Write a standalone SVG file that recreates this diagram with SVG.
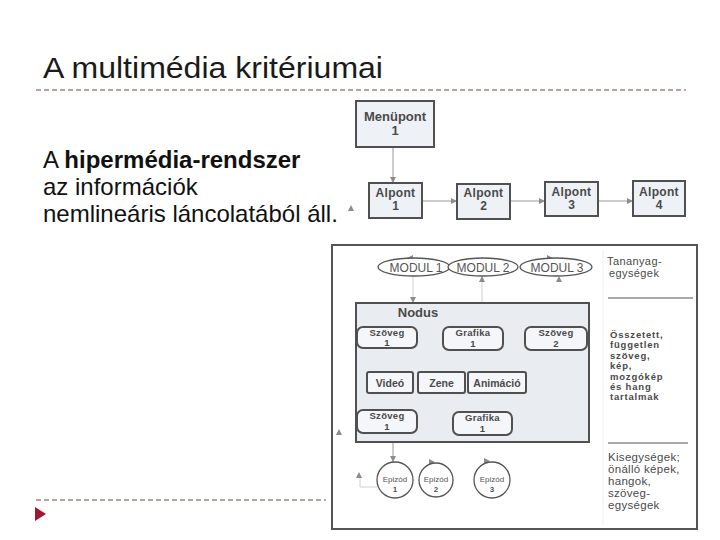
<svg xmlns="http://www.w3.org/2000/svg" width="720" height="540" viewBox="0 0 720 540">
<defs>
<style>
.title{font-family:"Liberation Sans",Arial,sans-serif;font-size:30px;fill:#1a1a1a}
.body{font-family:"Liberation Sans",Arial,sans-serif;font-size:24px;fill:#111}
.dash{stroke:#7a4040;stroke-width:1;stroke-dasharray:5 3;fill:none}
.box{fill:#eef2f7;stroke:#505050;stroke-width:2}
.rbox{fill:#f4f6f9;stroke:#505050;stroke-width:2}
.lbl{font-family:"Liberation Sans",Arial,sans-serif;font-weight:bold;fill:#4a4a4a;text-anchor:middle}
.sm{font-size:9.5px;letter-spacing:0.3px}
.mod{font-family:"Liberation Sans",Arial,sans-serif;font-size:12px;fill:#555;text-anchor:middle}
.epi{font-family:"Liberation Sans",Arial,sans-serif;font-size:8px;fill:#555;text-anchor:middle}
.side{font-family:"Liberation Sans",Arial,sans-serif;fill:#4a4a4a}
.conn{stroke:#9a9a9a;stroke-width:1;fill:none}
.faint{stroke:#d0d0d0;stroke-width:1;fill:none}
.tri{fill:#8c8c8c}
</style>
<marker id="ah" viewBox="0 0 10 10" refX="10" refY="5" markerWidth="6" markerHeight="6" orient="auto"><path d="M0,0 L10,5 L0,10 z" fill="#8c8c8c"/></marker>
</defs>
<rect width="720" height="540" fill="#ffffff"/>

<g id="slide-text">
<text class="title" x="43" y="78" textLength="340" lengthAdjust="spacingAndGlyphs">A multimédia kritériumai</text>
<line class="dash" x1="36" y1="90" x2="686" y2="90"/>
<text class="body" x="43" y="168">A <tspan font-weight="bold">hipermédia-rendszer</tspan></text>
<text class="body" x="43" y="195">az információk</text>
<text class="body" x="43" y="222">nemlineáris láncolatából áll.</text>
<line class="dash" x1="36" y1="500" x2="326" y2="500"/>
<polygon points="35,507 46,514 35,521" fill="#a0182f"/>
</g>

<g id="frame">
<rect x="332" y="245" width="365" height="284" fill="#ffffff" stroke="#555" stroke-width="2"/>
<line x1="603" y1="250" x2="603" y2="525" stroke="#f0f0f0" stroke-width="1"/>
<line x1="608" y1="298" x2="693" y2="298" stroke="#555" stroke-width="1.2"/>
<line x1="608" y1="443" x2="688" y2="443" stroke="#555" stroke-width="1.2"/>
</g>

<g id="connectors">
<path class="conn" d="M393,147 V183" marker-end="url(#ah)"/>
<path class="conn" d="M422,201 H457" marker-end="url(#ah)"/>
<path class="conn" d="M510,201 H545" marker-end="url(#ah)"/>
<path class="conn" d="M598,201 H633" marker-end="url(#ah)"/>
<polygon class="tri" points="348,211 351,205 354,211"/>
<polygon class="tri" points="413,255 407,258 413,261"/>
<polygon class="tri" points="547,255 553,258 547,261"/>
<path class="faint" d="M482,276 V303"/>
<polygon class="tri" points="479,282 482,276 485,282"/>
<polygon class="tri" points="556,282 559,276 562,282"/>
<path class="faint" d="M413,276 V297"/>
<polygon class="tri" points="410,297 416,297 413,303"/>
<path class="conn" d="M417,338 H443" marker-end="url(#ah)"/>
<path class="conn" d="M503,338 H525" marker-end="url(#ah)"/>
<path class="conn" d="M387,348 V372" marker-end="url(#ah)"/>
<path class="conn" d="M387,393 V410" marker-end="url(#ah)"/>
<path class="conn" d="M417,422 H453" marker-end="url(#ah)"/>
<path class="faint" d="M420,352 L479,412"/>
<polygon class="tri" points="432,378 435,372 438,378"/>
<polygon class="tri" points="482,378 485,372 488,378"/>
<polygon class="tri" points="476,418 479,412 482,418"/>
<polygon class="tri" points="336,435 339,429 342,435"/>
<path class="conn" d="M393,442 V462" marker-end="url(#ah)"/>
<polygon class="tri" points="429,459 435,462 429,465"/>
<polygon class="tri" points="484,458 490,461 484,464"/>
<path class="faint" d="M360,478 V487 H377"/>
<polygon class="tri" points="356,478 359,472 362,478"/>
</g>

<g id="menupont1">
<rect class="box" x="356" y="101" width="78" height="46"/>
<text class="lbl" x="395" y="121" font-size="13">Menüpont</text>
<text class="lbl" x="395" y="135" font-size="13">1</text>
</g>
<g id="alpont1">
<rect class="box" x="369" y="183" width="53" height="35"/>
<text class="lbl" x="395.5" y="197" font-size="12" letter-spacing="0.3">Alpont</text>
<text class="lbl" x="395.5" y="210" font-size="12">1</text>
</g>
<g id="alpont2">
<rect class="box" x="457" y="184" width="53" height="35"/>
<text class="lbl" x="483.5" y="197" font-size="12" letter-spacing="0.3">Alpont</text>
<text class="lbl" x="483.5" y="210" font-size="12">2</text>
</g>
<g id="alpont3">
<rect class="box" x="545" y="182" width="53" height="34"/>
<text class="lbl" x="571.5" y="196" font-size="12" letter-spacing="0.3">Alpont</text>
<text class="lbl" x="571.5" y="209" font-size="12">3</text>
</g>
<g id="alpont4">
<rect class="box" x="633" y="181" width="52" height="35"/>
<text class="lbl" x="659" y="196" font-size="12" letter-spacing="0.3">Alpont</text>
<text class="lbl" x="659" y="209" font-size="12">4</text>
</g>

<g id="modul1">
<ellipse cx="414" cy="267" rx="36" ry="9" fill="#fff" stroke="#555" stroke-width="1.3"/>
<text class="mod" x="416" y="271.5">MODUL 1</text>
</g>
<g id="modul2">
<ellipse cx="483" cy="267" rx="35" ry="9" fill="#fff" stroke="#555" stroke-width="1.3"/>
<text class="mod" x="483" y="271.5">MODUL 2</text>
</g>
<g id="modul3">
<ellipse cx="556" cy="267" rx="36" ry="9" fill="#fff" stroke="#555" stroke-width="1.3"/>
<text class="mod" x="557" y="271.5">MODUL 3</text>
</g>
<g id="tananyag">
<text class="side" font-size="11" letter-spacing="0.4" x="607" y="265">Tananyag-</text>
<text class="side" font-size="11" letter-spacing="0.4" x="609" y="277">egységek</text>
</g>

<g id="nodus">
<rect x="356" y="303" width="233" height="139" fill="#e9edf1" stroke="#505050" stroke-width="2"/>
<text class="lbl" x="418" y="317" font-size="13">Nodus</text>
</g>
<g id="szoveg1">
<rect class="rbox" x="357" y="327" width="60" height="21" rx="6"/>
<text class="lbl sm" x="387" y="335.5">Szöveg</text>
<text class="lbl sm" x="387" y="346">1</text>
</g>
<g id="grafika1">
<rect class="rbox" x="443" y="327" width="60" height="23" rx="6"/>
<text class="lbl sm" x="473" y="336">Grafika</text>
<text class="lbl sm" x="473" y="346.5">1</text>
</g>
<g id="szoveg2">
<rect class="rbox" x="525" y="327" width="62" height="23" rx="6"/>
<text class="lbl sm" x="556" y="336">Szöveg</text>
<text class="lbl sm" x="556" y="346.5">2</text>
</g>
<g id="video">
<rect class="rbox" x="367" y="372" width="46" height="21" rx="2"/>
<text class="lbl" x="390" y="386.5" font-size="10.5">Videó</text>
</g>
<g id="zene">
<rect class="rbox" x="418" y="372" width="47" height="21" rx="2"/>
<text class="lbl" x="441.5" y="386.5" font-size="10.5">Zene</text>
</g>
<g id="animacio">
<rect class="rbox" x="468" y="372" width="58" height="21" rx="2"/>
<text class="lbl" x="497" y="386.5" font-size="10.5">Animáció</text>
</g>
<g id="szoveg1b">
<rect class="rbox" x="357" y="410" width="60" height="23" rx="6"/>
<text class="lbl sm" x="387" y="419">Szöveg</text>
<text class="lbl sm" x="387" y="429.5">1</text>
</g>
<g id="grafika1b">
<rect class="rbox" x="453" y="412" width="59" height="23" rx="6"/>
<text class="lbl sm" x="482.5" y="421">Grafika</text>
<text class="lbl sm" x="482.5" y="431.5">1</text>
</g>
<g id="osszetett">
<text class="side" font-size="9.5" font-weight="bold" letter-spacing="0.8">
<tspan x="610" y="338">Összetett,</tspan>
<tspan x="610" y="348.4">független</tspan>
<tspan x="610" y="358.8">szöveg,</tspan>
<tspan x="610" y="369.2">kép,</tspan>
<tspan x="610" y="379.6">mozgókép</tspan>
<tspan x="610" y="390">és hang</tspan>
<tspan x="610" y="400.4">tartalmak</tspan>
</text>
</g>

<g id="epizod1">
<circle cx="395" cy="480" r="18" fill="#fff" stroke="#555" stroke-width="1.3"/>
<text class="epi" x="395" y="482">Epizód</text>
<text class="epi" font-weight="bold" x="395" y="492">1</text>
</g>
<g id="epizod2">
<circle cx="436" cy="480" r="17" fill="#fff" stroke="#555" stroke-width="1.3"/>
<text class="epi" x="436" y="482">Epizód</text>
<text class="epi" font-weight="bold" x="436" y="492">2</text>
</g>
<g id="epizod3">
<circle cx="492" cy="480" r="18" fill="#fff" stroke="#555" stroke-width="1.3"/>
<text class="epi" x="492" y="482">Epizód</text>
<text class="epi" font-weight="bold" x="492" y="492">3</text>
</g>
<g id="kisegysegek">
<text class="side" font-size="11.5" letter-spacing="0.3">
<tspan x="608" y="461">Kisegységek;</tspan>
<tspan x="608" y="473">önálló képek,</tspan>
<tspan x="608" y="485">hangok,</tspan>
<tspan x="608" y="497">szöveg-</tspan>
<tspan x="608" y="509">egységek</tspan>
</text>
</g>
</svg>
